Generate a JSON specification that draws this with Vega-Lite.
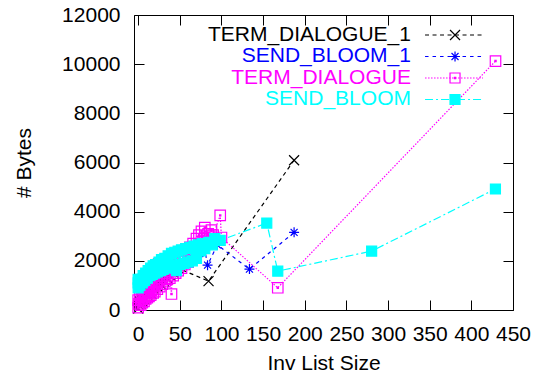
{
 "$schema": "https://vega.github.io/schema/vega-lite/v6.json",
 "width": 379, "height": 295,
 "autosize": {"type": "none"},
 "padding": {"left": 134, "top": 15, "right": 26, "bottom": 69},
 "background": "white",
 "config": {
  "view": {"stroke": "black", "strokeWidth": 1},
  "font": "Liberation Sans",
  "axis": {"grid": false, "domain": false, "tickColor": "black", "tickWidth": 1, "tickSize": -10,
           "labelColor": "black", "labelFontSize": 21, "labelFont": "Liberation Sans",
           "titleFont": "Liberation Sans", "titleFontSize": 21, "titleFontWeight": "normal", "titleColor": "black",
           "labelOverlap": false, "labelFlush": false}
 },
 "datasets": {
  "pts": [
   {"s":"TERM_DIALOGUE_1","x":0,"y":60},{"s":"TERM_DIALOGUE_1","x":1,"y":200},{"s":"TERM_DIALOGUE_1","x":2,"y":350},{"s":"TERM_DIALOGUE_1","x":3,"y":250},{"s":"TERM_DIALOGUE_1","x":4,"y":450},{"s":"TERM_DIALOGUE_1","x":5,"y":350},{"s":"TERM_DIALOGUE_1","x":6,"y":550},{"s":"TERM_DIALOGUE_1","x":7,"y":450},{"s":"TERM_DIALOGUE_1","x":8,"y":650},{"s":"TERM_DIALOGUE_1","x":9,"y":500},{"s":"TERM_DIALOGUE_1","x":10,"y":700},{"s":"TERM_DIALOGUE_1","x":12,"y":600},{"s":"TERM_DIALOGUE_1","x":13,"y":850},{"s":"TERM_DIALOGUE_1","x":14,"y":700},{"s":"TERM_DIALOGUE_1","x":16,"y":650},{"s":"TERM_DIALOGUE_1","x":17,"y":950},{"s":"TERM_DIALOGUE_1","x":19,"y":850},{"s":"TERM_DIALOGUE_1","x":21,"y":1050},{"s":"TERM_DIALOGUE_1","x":23,"y":950},{"s":"TERM_DIALOGUE_1","x":25,"y":1150},{"s":"TERM_DIALOGUE_1","x":27,"y":1050},{"s":"TERM_DIALOGUE_1","x":29,"y":1250},{"s":"TERM_DIALOGUE_1","x":31,"y":1150},{"s":"TERM_DIALOGUE_1","x":33,"y":1350},{"s":"TERM_DIALOGUE_1","x":35,"y":1300},{"s":"TERM_DIALOGUE_1","x":37,"y":1450},{"s":"TERM_DIALOGUE_1","x":39,"y":1400},{"s":"TERM_DIALOGUE_1","x":41,"y":1550},{"s":"TERM_DIALOGUE_1","x":43,"y":1500},{"s":"TERM_DIALOGUE_1","x":45,"y":1650},{"s":"TERM_DIALOGUE_1","x":48,"y":1700},{"s":"TERM_DIALOGUE_1","x":84.5,"y":1174},{"s":"TERM_DIALOGUE_1","x":187.2,"y":6092},
   {"s":"SEND_BLOOM_1","x":0,"y":950},{"s":"SEND_BLOOM_1","x":0,"y":1250},{"s":"SEND_BLOOM_1","x":2,"y":1100},{"s":"SEND_BLOOM_1","x":4,"y":1350},{"s":"SEND_BLOOM_1","x":6,"y":1200},{"s":"SEND_BLOOM_1","x":8,"y":1500},{"s":"SEND_BLOOM_1","x":10,"y":1350},{"s":"SEND_BLOOM_1","x":12,"y":1650},{"s":"SEND_BLOOM_1","x":14,"y":1450},{"s":"SEND_BLOOM_1","x":16,"y":1750},{"s":"SEND_BLOOM_1","x":18,"y":1500},{"s":"SEND_BLOOM_1","x":20,"y":1850},{"s":"SEND_BLOOM_1","x":22,"y":1950},{"s":"SEND_BLOOM_1","x":24,"y":1600},{"s":"SEND_BLOOM_1","x":26,"y":2000},{"s":"SEND_BLOOM_1","x":28,"y":1700},{"s":"SEND_BLOOM_1","x":30,"y":2050},{"s":"SEND_BLOOM_1","x":33,"y":1750},{"s":"SEND_BLOOM_1","x":36,"y":2150},{"s":"SEND_BLOOM_1","x":39,"y":1800},{"s":"SEND_BLOOM_1","x":42,"y":2300},{"s":"SEND_BLOOM_1","x":45,"y":1850},{"s":"SEND_BLOOM_1","x":48,"y":2350},{"s":"SEND_BLOOM_1","x":52,"y":1900},{"s":"SEND_BLOOM_1","x":55,"y":2450},{"s":"SEND_BLOOM_1","x":58,"y":2000},{"s":"SEND_BLOOM_1","x":62,"y":2500},{"s":"SEND_BLOOM_1","x":66,"y":2100},{"s":"SEND_BLOOM_1","x":70,"y":2600},{"s":"SEND_BLOOM_1","x":74,"y":2300},{"s":"SEND_BLOOM_1","x":78,"y":2650},{"s":"SEND_BLOOM_1","x":80,"y":2450},{"s":"SEND_BLOOM_1","x":83.3,"y":1825},{"s":"SEND_BLOOM_1","x":95,"y":2650},{"s":"SEND_BLOOM_1","x":133.6,"y":1663},{"s":"SEND_BLOOM_1","x":187.2,"y":3158},
   {"s":"TERM_DIALOGUE","x":0,"y":100},{"s":"TERM_DIALOGUE","x":0,"y":400},{"s":"TERM_DIALOGUE","x":1,"y":250},{"s":"TERM_DIALOGUE","x":2,"y":600},{"s":"TERM_DIALOGUE","x":3,"y":200},{"s":"TERM_DIALOGUE","x":4,"y":450},{"s":"TERM_DIALOGUE","x":5,"y":300},{"s":"TERM_DIALOGUE","x":6,"y":700},{"s":"TERM_DIALOGUE","x":7,"y":350},{"s":"TERM_DIALOGUE","x":8,"y":550},{"s":"TERM_DIALOGUE","x":9,"y":450},{"s":"TERM_DIALOGUE","x":10,"y":800},{"s":"TERM_DIALOGUE","x":11,"y":500},{"s":"TERM_DIALOGUE","x":12,"y":700},{"s":"TERM_DIALOGUE","x":13,"y":550},{"s":"TERM_DIALOGUE","x":14,"y":900},{"s":"TERM_DIALOGUE","x":15,"y":600},{"s":"TERM_DIALOGUE","x":16,"y":800},{"s":"TERM_DIALOGUE","x":18,"y":700},{"s":"TERM_DIALOGUE","x":19,"y":1000},{"s":"TERM_DIALOGUE","x":20,"y":750},{"s":"TERM_DIALOGUE","x":22,"y":1100},{"s":"TERM_DIALOGUE","x":23,"y":850},{"s":"TERM_DIALOGUE","x":25,"y":1200},{"s":"TERM_DIALOGUE","x":26,"y":950},{"s":"TERM_DIALOGUE","x":28,"y":1300},{"s":"TERM_DIALOGUE","x":29,"y":1050},{"s":"TERM_DIALOGUE","x":31,"y":1400},{"s":"TERM_DIALOGUE","x":32,"y":1150},{"s":"TERM_DIALOGUE","x":34,"y":1500},{"s":"TERM_DIALOGUE","x":35,"y":1250},{"s":"TERM_DIALOGUE","x":37,"y":1650},{"s":"TERM_DIALOGUE","x":38,"y":1300},{"s":"TERM_DIALOGUE","x":40,"y":650},{"s":"TERM_DIALOGUE","x":41,"y":1750},{"s":"TERM_DIALOGUE","x":42,"y":1400},{"s":"TERM_DIALOGUE","x":44,"y":1850},{"s":"TERM_DIALOGUE","x":45,"y":1500},{"s":"TERM_DIALOGUE","x":47,"y":2000},{"s":"TERM_DIALOGUE","x":48,"y":1600},{"s":"TERM_DIALOGUE","x":50,"y":2100},{"s":"TERM_DIALOGUE","x":52,"y":1700},{"s":"TERM_DIALOGUE","x":54,"y":2250},{"s":"TERM_DIALOGUE","x":56,"y":1850},{"s":"TERM_DIALOGUE","x":58,"y":2400},{"s":"TERM_DIALOGUE","x":60,"y":1950},{"s":"TERM_DIALOGUE","x":62,"y":2550},{"s":"TERM_DIALOGUE","x":64,"y":2100},{"s":"TERM_DIALOGUE","x":66,"y":2700},{"s":"TERM_DIALOGUE","x":68,"y":2250},{"s":"TERM_DIALOGUE","x":70,"y":2900},{"s":"TERM_DIALOGUE","x":71,"y":2500},{"s":"TERM_DIALOGUE","x":73,"y":3050},{"s":"TERM_DIALOGUE","x":75,"y":2650},{"s":"TERM_DIALOGUE","x":76,"y":3200},{"s":"TERM_DIALOGUE","x":78,"y":2800},{"s":"TERM_DIALOGUE","x":80,"y":3350},{"s":"TERM_DIALOGUE","x":82,"y":2900},{"s":"TERM_DIALOGUE","x":84,"y":3100},{"s":"TERM_DIALOGUE","x":86,"y":3000},{"s":"TERM_DIALOGUE","x":88,"y":3250},{"s":"TERM_DIALOGUE","x":90,"y":3050},{"s":"TERM_DIALOGUE","x":98.5,"y":3850},{"s":"TERM_DIALOGUE","x":100,"y":2950},{"s":"TERM_DIALOGUE","x":167.6,"y":904},{"s":"TERM_DIALOGUE","x":429,"y":10126},
   {"s":"SEND_BLOOM","x":0,"y":900},{"s":"SEND_BLOOM","x":0,"y":1100},{"s":"SEND_BLOOM","x":0,"y":1250},{"s":"SEND_BLOOM","x":2,"y":1000},{"s":"SEND_BLOOM","x":3,"y":1250},{"s":"SEND_BLOOM","x":5,"y":1100},{"s":"SEND_BLOOM","x":6,"y":1400},{"s":"SEND_BLOOM","x":8,"y":1200},{"s":"SEND_BLOOM","x":9,"y":1500},{"s":"SEND_BLOOM","x":11,"y":1300},{"s":"SEND_BLOOM","x":12,"y":1600},{"s":"SEND_BLOOM","x":14,"y":1400},{"s":"SEND_BLOOM","x":15,"y":1700},{"s":"SEND_BLOOM","x":17,"y":1450},{"s":"SEND_BLOOM","x":18,"y":1800},{"s":"SEND_BLOOM","x":20,"y":1500},{"s":"SEND_BLOOM","x":21,"y":1850},{"s":"SEND_BLOOM","x":23,"y":1550},{"s":"SEND_BLOOM","x":25,"y":1950},{"s":"SEND_BLOOM","x":27,"y":1600},{"s":"SEND_BLOOM","x":28,"y":2050},{"s":"SEND_BLOOM","x":30,"y":1650},{"s":"SEND_BLOOM","x":32,"y":2100},{"s":"SEND_BLOOM","x":34,"y":1700},{"s":"SEND_BLOOM","x":36,"y":2200},{"s":"SEND_BLOOM","x":38,"y":1750},{"s":"SEND_BLOOM","x":40,"y":2300},{"s":"SEND_BLOOM","x":42,"y":1800},{"s":"SEND_BLOOM","x":44,"y":2350},{"s":"SEND_BLOOM","x":46,"y":1600},{"s":"SEND_BLOOM","x":48,"y":2400},{"s":"SEND_BLOOM","x":50,"y":1850},{"s":"SEND_BLOOM","x":52,"y":2450},{"s":"SEND_BLOOM","x":55,"y":1900},{"s":"SEND_BLOOM","x":57,"y":2500},{"s":"SEND_BLOOM","x":60,"y":1950},{"s":"SEND_BLOOM","x":62,"y":2550},{"s":"SEND_BLOOM","x":65,"y":2000},{"s":"SEND_BLOOM","x":67,"y":2600},{"s":"SEND_BLOOM","x":70,"y":2100},{"s":"SEND_BLOOM","x":72,"y":2650},{"s":"SEND_BLOOM","x":75,"y":2400},{"s":"SEND_BLOOM","x":77,"y":2700},{"s":"SEND_BLOOM","x":80,"y":2500},{"s":"SEND_BLOOM","x":85,"y":2750},{"s":"SEND_BLOOM","x":89,"y":2650},{"s":"SEND_BLOOM","x":92,"y":2900},{"s":"SEND_BLOOM","x":98.5,"y":2832},{"s":"SEND_BLOOM","x":154.4,"y":3537},{"s":"SEND_BLOOM","x":167.6,"y":1581},{"s":"SEND_BLOOM","x":280.3,"y":2396},{"s":"SEND_BLOOM","x":428.9,"y":4923}
  ],
  "leg": [
   {"s":"TERM_DIALOGUE_1","ly":11186},
   {"s":"SEND_BLOOM_1","ly":10312},
   {"s":"TERM_DIALOGUE","ly":9437},
   {"s":"SEND_BLOOM","ly":8563}
  ]
 },
 "resolve": {"axis": {"x": "independent", "y": "independent"}},
 "layer": [
  {
   "data": {"name": "pts"},
   "encoding": {
    "x": {"field": "x", "type": "quantitative", "scale": {"domain": [-5, 450], "nice": false, "zero": false},
          "axis": {"orient": "bottom", "values": [0,50,100,150,200,250,300,350,400,450], "format": "d", "labelPadding": 23, "title": "Inv List Size", "titlePadding": 8}},
    "y": {"field": "y", "type": "quantitative", "scale": {"domain": [0, 12000], "nice": false, "zero": false},
          "axis": {"orient": "left", "values": [0,2000,4000,6000,8000,10000,12000], "format": "d", "labelPadding": 24, "title": "# Bytes", "titlePadding": 27}}
   },
   "layer": [
    {"transform": [{"filter": "datum.s === 'TERM_DIALOGUE_1'"}], "mark": {"type": "line", "strokeWidth": 1.2},
     "encoding": {"color": {"field": "s", "type": "nominal", "scale": {"domain": ["TERM_DIALOGUE_1","SEND_BLOOM_1","TERM_DIALOGUE","SEND_BLOOM"], "range": ["#000000","#0000ff","#ff00ff","#00ffff"]}, "legend": null},
                  "strokeDash": {"field": "s", "type": "nominal", "scale": {"domain": ["TERM_DIALOGUE_1","SEND_BLOOM_1","TERM_DIALOGUE","SEND_BLOOM"], "range": [[4,3.5],[3.5,4],[1.5,1.5],[8,3,2,3]]}, "legend": null}}},
    {"transform": [{"filter": "datum.s === 'TERM_DIALOGUE_1'"}], "mark": {"type": "point", "size": 100, "strokeWidth": 1.2, "opacity": 1},
     "encoding": {"shape": {"field": "s", "type": "nominal", "scale": {"domain": ["TERM_DIALOGUE_1","SEND_BLOOM_1","TERM_DIALOGUE","SEND_BLOOM"], "range": ["M-1,-1L1,1M-1,1L1,-1","M-1,0L1,0M0,-1L0,1M-0.7,-0.7L0.7,0.7M-0.7,0.7L0.7,-0.7","M-1,-1L1,-1L1,1L-1,1Z M-0.12,-0.12L0.12,-0.12L0.12,0.12L-0.12,0.12Z","square"]}, "legend": null},
                  "stroke": {"field": "s", "type": "nominal", "scale": {"domain": ["TERM_DIALOGUE_1","SEND_BLOOM_1","TERM_DIALOGUE","SEND_BLOOM"], "range": ["#000000","#0000ff","#ff00ff","#00ffff"]}, "legend": null},
                  "fill": {"field": "s", "type": "nominal", "scale": {"domain": ["TERM_DIALOGUE_1","SEND_BLOOM_1","TERM_DIALOGUE","SEND_BLOOM"], "range": ["transparent","transparent","transparent","#00ffff"]}, "legend": null}}},
    {"transform": [{"filter": "datum.s === 'SEND_BLOOM_1'"}], "mark": {"type": "line", "strokeWidth": 1.2},
     "encoding": {"color": {"field": "s", "type": "nominal", "scale": {"domain": ["TERM_DIALOGUE_1","SEND_BLOOM_1","TERM_DIALOGUE","SEND_BLOOM"], "range": ["#000000","#0000ff","#ff00ff","#00ffff"]}, "legend": null},
                  "strokeDash": {"field": "s", "type": "nominal", "scale": {"domain": ["TERM_DIALOGUE_1","SEND_BLOOM_1","TERM_DIALOGUE","SEND_BLOOM"], "range": [[4,3.5],[3.5,4],[1.5,1.5],[8,3,2,3]]}, "legend": null}}},
    {"transform": [{"filter": "datum.s === 'SEND_BLOOM_1'"}], "mark": {"type": "point", "size": 100, "strokeWidth": 1.2, "opacity": 1},
     "encoding": {"shape": {"field": "s", "type": "nominal", "scale": {"domain": ["TERM_DIALOGUE_1","SEND_BLOOM_1","TERM_DIALOGUE","SEND_BLOOM"], "range": ["M-1,-1L1,1M-1,1L1,-1","M-1,0L1,0M0,-1L0,1M-0.7,-0.7L0.7,0.7M-0.7,0.7L0.7,-0.7","M-1,-1L1,-1L1,1L-1,1Z M-0.12,-0.12L0.12,-0.12L0.12,0.12L-0.12,0.12Z","square"]}, "legend": null},
                  "stroke": {"field": "s", "type": "nominal", "scale": {"domain": ["TERM_DIALOGUE_1","SEND_BLOOM_1","TERM_DIALOGUE","SEND_BLOOM"], "range": ["#000000","#0000ff","#ff00ff","#00ffff"]}, "legend": null},
                  "fill": {"field": "s", "type": "nominal", "scale": {"domain": ["TERM_DIALOGUE_1","SEND_BLOOM_1","TERM_DIALOGUE","SEND_BLOOM"], "range": ["transparent","transparent","transparent","#00ffff"]}, "legend": null}}},
    {"transform": [{"filter": "datum.s === 'TERM_DIALOGUE'"}], "mark": {"type": "line", "strokeWidth": 1.2},
     "encoding": {"color": {"field": "s", "type": "nominal", "scale": {"domain": ["TERM_DIALOGUE_1","SEND_BLOOM_1","TERM_DIALOGUE","SEND_BLOOM"], "range": ["#000000","#0000ff","#ff00ff","#00ffff"]}, "legend": null},
                  "strokeDash": {"field": "s", "type": "nominal", "scale": {"domain": ["TERM_DIALOGUE_1","SEND_BLOOM_1","TERM_DIALOGUE","SEND_BLOOM"], "range": [[4,3.5],[3.5,4],[1.5,1.5],[8,3,2,3]]}, "legend": null}}},
    {"transform": [{"filter": "datum.s === 'TERM_DIALOGUE'"}], "mark": {"type": "point", "size": 110, "strokeWidth": 1.2, "opacity": 1},
     "encoding": {"shape": {"field": "s", "type": "nominal", "scale": {"domain": ["TERM_DIALOGUE_1","SEND_BLOOM_1","TERM_DIALOGUE","SEND_BLOOM"], "range": ["M-1,-1L1,1M-1,1L1,-1","M-1,0L1,0M0,-1L0,1M-0.7,-0.7L0.7,0.7M-0.7,0.7L0.7,-0.7","M-1,-1L1,-1L1,1L-1,1Z M-0.12,-0.12L0.12,-0.12L0.12,0.12L-0.12,0.12Z","square"]}, "legend": null},
                  "stroke": {"field": "s", "type": "nominal", "scale": {"domain": ["TERM_DIALOGUE_1","SEND_BLOOM_1","TERM_DIALOGUE","SEND_BLOOM"], "range": ["#000000","#0000ff","#ff00ff","#00ffff"]}, "legend": null},
                  "fill": {"field": "s", "type": "nominal", "scale": {"domain": ["TERM_DIALOGUE_1","SEND_BLOOM_1","TERM_DIALOGUE","SEND_BLOOM"], "range": ["transparent","transparent","transparent","#00ffff"]}, "legend": null}}},
    {"transform": [{"filter": "datum.s === 'SEND_BLOOM'"}], "mark": {"type": "line", "strokeWidth": 1.2},
     "encoding": {"color": {"field": "s", "type": "nominal", "scale": {"domain": ["TERM_DIALOGUE_1","SEND_BLOOM_1","TERM_DIALOGUE","SEND_BLOOM"], "range": ["#000000","#0000ff","#ff00ff","#00ffff"]}, "legend": null},
                  "strokeDash": {"field": "s", "type": "nominal", "scale": {"domain": ["TERM_DIALOGUE_1","SEND_BLOOM_1","TERM_DIALOGUE","SEND_BLOOM"], "range": [[4,3.5],[3.5,4],[1.5,1.5],[8,3,2,3]]}, "legend": null}}},
    {"transform": [{"filter": "datum.s === 'SEND_BLOOM'"}], "mark": {"type": "point", "size": 100, "strokeWidth": 1.2, "opacity": 1},
     "encoding": {"shape": {"field": "s", "type": "nominal", "scale": {"domain": ["TERM_DIALOGUE_1","SEND_BLOOM_1","TERM_DIALOGUE","SEND_BLOOM"], "range": ["M-1,-1L1,1M-1,1L1,-1","M-1,0L1,0M0,-1L0,1M-0.7,-0.7L0.7,0.7M-0.7,0.7L0.7,-0.7","M-1,-1L1,-1L1,1L-1,1Z M-0.12,-0.12L0.12,-0.12L0.12,0.12L-0.12,0.12Z","square"]}, "legend": null},
                  "stroke": {"field": "s", "type": "nominal", "scale": {"domain": ["TERM_DIALOGUE_1","SEND_BLOOM_1","TERM_DIALOGUE","SEND_BLOOM"], "range": ["#000000","#0000ff","#ff00ff","#00ffff"]}, "legend": null},
                  "fill": {"field": "s", "type": "nominal", "scale": {"domain": ["TERM_DIALOGUE_1","SEND_BLOOM_1","TERM_DIALOGUE","SEND_BLOOM"], "range": ["transparent","transparent","transparent","#00ffff"]}, "legend": null}}}
   ]
  },
  {
   "data": {"name": "pts"},
   "mark": {"type": "point", "opacity": 0},
   "encoding": {
    "x": {"field": "x", "type": "quantitative", "axis": {"orient": "top", "values": [0,50,100,150,200,250,300,350,400,450], "labels": false, "title": null}},
    "y": {"field": "y", "type": "quantitative", "axis": {"orient": "right", "values": [0,2000,4000,6000,8000,10000,12000], "labels": false, "title": null}}
   }
  },
  {
   "data": {"name": "leg"},
   "mark": {"type": "text", "align": "right", "baseline": "middle", "fontSize": 21, "font": "Liberation Sans"},
   "encoding": {
    "x": {"datum": 327.5, "type": "quantitative", "axis": null},
    "y": {"field": "ly", "type": "quantitative", "axis": null},
    "text": {"field": "s", "type": "nominal"},
    "color": {"field": "s", "type": "nominal", "scale": {"domain": ["TERM_DIALOGUE_1","SEND_BLOOM_1","TERM_DIALOGUE","SEND_BLOOM"], "range": ["#000000","#0000ff","#ff00ff","#00ffff"]}, "legend": null}
   }
  },
  {
   "data": {"name": "leg"},
   "mark": {"type": "rule", "strokeWidth": 1.2},
   "encoding": {
    "x": {"datum": 344.4, "type": "quantitative", "axis": null},
    "x2": {"datum": 414.0},
    "y": {"field": "ly", "type": "quantitative", "axis": null},
    "color": {"field": "s", "type": "nominal", "scale": {"domain": ["TERM_DIALOGUE_1","SEND_BLOOM_1","TERM_DIALOGUE","SEND_BLOOM"], "range": ["#000000","#0000ff","#ff00ff","#00ffff"]}, "legend": null},
    "strokeDash": {"field": "s", "type": "nominal", "scale": {"domain": ["TERM_DIALOGUE_1","SEND_BLOOM_1","TERM_DIALOGUE","SEND_BLOOM"], "range": [[4,3.5],[3.5,4],[1.5,1.5],[8,3,2,3]]}, "legend": null}
   }
  },
  {
   "data": {"name": "leg"},
   "mark": {"type": "point", "size": 100, "strokeWidth": 1.2, "opacity": 1},
   "encoding": {
    "x": {"datum": 380.4, "type": "quantitative", "axis": null},
    "y": {"field": "ly", "type": "quantitative", "axis": null},
    "shape": {"field": "s", "type": "nominal", "scale": {"domain": ["TERM_DIALOGUE_1","SEND_BLOOM_1","TERM_DIALOGUE","SEND_BLOOM"], "range": ["M-1,-1L1,1M-1,1L1,-1","M-1,0L1,0M0,-1L0,1M-0.7,-0.7L0.7,0.7M-0.7,0.7L0.7,-0.7","M-1,-1L1,-1L1,1L-1,1Z M-0.12,-0.12L0.12,-0.12L0.12,0.12L-0.12,0.12Z","square"]}, "legend": null},
    "stroke": {"field": "s", "type": "nominal", "scale": {"domain": ["TERM_DIALOGUE_1","SEND_BLOOM_1","TERM_DIALOGUE","SEND_BLOOM"], "range": ["#000000","#0000ff","#ff00ff","#00ffff"]}, "legend": null},
    "fill": {"field": "s", "type": "nominal", "scale": {"domain": ["TERM_DIALOGUE_1","SEND_BLOOM_1","TERM_DIALOGUE","SEND_BLOOM"], "range": ["transparent","transparent","transparent","#00ffff"]}, "legend": null}
   }
  }
 ]
}
